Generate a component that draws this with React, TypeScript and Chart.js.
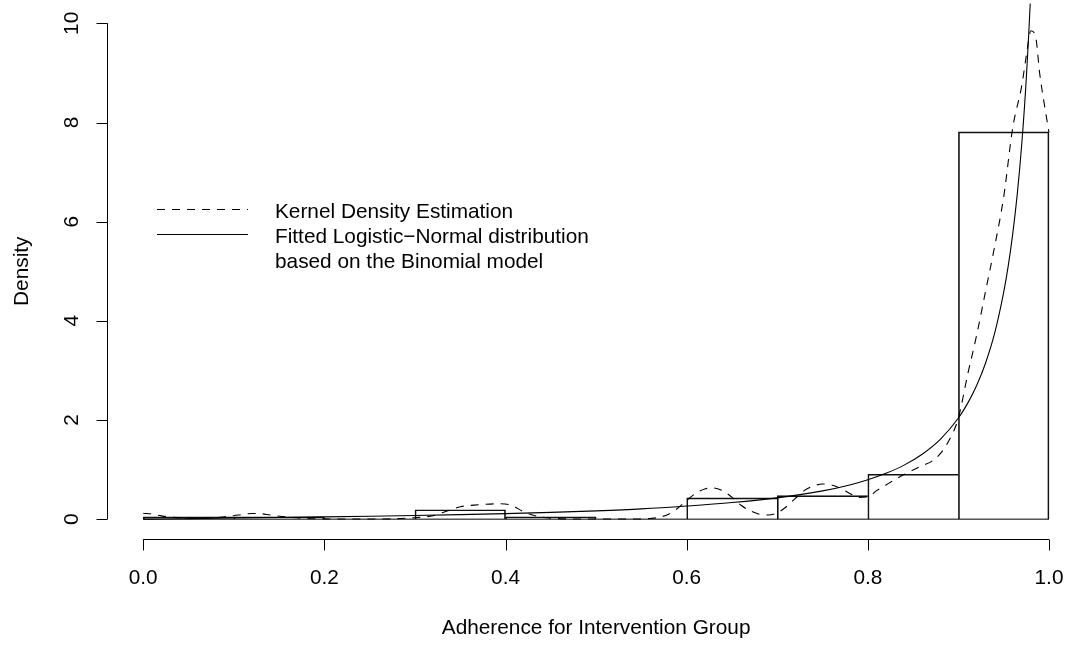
import React, { useEffect, useRef } from "react";
import { Chart, registerables } from "chart.js";

Chart.register(...registerables);

// ---------- data ----------
const binEdges = [0, 0.1, 0.2, 0.3, 0.4, 0.5, 0.6, 0.7, 0.8, 0.9, 1.0];
const binDensity = [0.048, 0.048, 0, 0.19, 0.048, 0, 0.43, 0.476, 0.905, 7.81];

const kdeX = [
  0.0, 0.01, 0.02, 0.03, 0.05, 0.07, 0.09, 0.1, 0.11, 0.12, 0.13, 0.14, 0.16, 0.18, 0.2,
  0.24, 0.28, 0.3, 0.32, 0.33, 0.34, 0.35, 0.37, 0.39, 0.405, 0.42, 0.435, 0.45, 0.47,
  0.52, 0.55, 0.56, 0.57, 0.58, 0.59,
  0.6, 0.61, 0.62, 0.63, 0.64, 0.65, 0.66, 0.67, 0.68, 0.69,
  0.7, 0.71, 0.72, 0.73, 0.74, 0.75, 0.76, 0.77, 0.78, 0.79,
  0.8, 0.81, 0.82, 0.83, 0.84, 0.85, 0.86, 0.87, 0.88, 0.89,
  0.9, 0.91, 0.92, 0.93, 0.94, 0.95, 0.96, 0.97,
  0.975, 0.98, 0.985, 0.99, 0.995, 1.0,
];
const kdeY = [
  0.12, 0.1, 0.066, 0.04, 0.02, 0.02, 0.05, 0.07, 0.095, 0.115, 0.11, 0.085, 0.04, 0.015, 0.005,
  0.002, 0.01, 0.03, 0.07, 0.13, 0.19, 0.25, 0.29, 0.31, 0.29, 0.15, 0.06, 0.02, 0.005,
  0.002, 0.005, 0.015, 0.04, 0.1, 0.22,
  0.38, 0.52, 0.61, 0.63, 0.57, 0.44, 0.28, 0.17, 0.1, 0.085,
  0.13, 0.25, 0.42, 0.58, 0.67, 0.71, 0.69, 0.62, 0.52, 0.44,
  0.45, 0.58, 0.69, 0.8, 0.9, 0.99, 1.08, 1.16, 1.32, 1.6,
  2.04, 2.9, 3.7, 4.6, 5.5, 6.5, 7.9, 8.75,
  9.35, 9.85, 9.75, 8.95, 8.35, 7.8,
];

const fitX = [
  0, 0.02, 0.05, 0.1, 0.15, 0.2, 0.25, 0.3, 0.35, 0.4, 0.45, 0.5, 0.55, 0.6, 0.65, 0.7, 0.75,
  0.78, 0.8, 0.82, 0.84, 0.86, 0.88, 0.9, 0.91, 0.92, 0.93, 0.94, 0.95, 0.955, 0.96, 0.965,
  0.97, 0.975, 0.98, 0.985,
];
const fitY = [
  0, 0.004, 0.011, 0.023, 0.035, 0.047, 0.06, 0.075, 0.092, 0.112, 0.136, 0.167, 0.207, 0.265,
  0.335, 0.43, 0.57, 0.69, 0.795, 0.925, 1.09, 1.31, 1.61, 2.04, 2.33, 2.69, 3.15, 3.75, 4.58,
  5.11, 5.76, 6.56, 7.58, 8.91, 10.71, 13.28,
];

const xTicks = [0, 0.2, 0.4, 0.6, 0.8, 1.0];
const xTickLabels = ["0.0", "0.2", "0.4", "0.6", "0.8", "1.0"];
const yTicks = [0, 2, 4, 6, 8, 10];
const yTickLabels = ["0", "2", "4", "6", "8", "10"];

const xTitle = "Adherence for Intervention Group";
const yTitle = "Density";
const legendLabels = [
  "Kernel Density Estimation",
  "Fitted Logistic\u2212Normal distribution",
  "based on the Binomial model",
];

const FONT = '20.8px "Liberation Sans", Arial, Helvetica, sans-serif';

// R-style axes, labels and legend
const rAxesPlugin = {
  id: "rAxes",
  afterDraw(chart: any) {
    const { ctx, chartArea } = chart;
    const xs = chart.scales.x;
    const ys = chart.scales.y;
    ctx.save();
    ctx.strokeStyle = "#000";
    ctx.fillStyle = "#000";
    ctx.lineWidth = 1;
    ctx.setLineDash([]);

    // x axis
    const yb = Math.round(chartArea.bottom) + 0.5;
    ctx.beginPath();
    ctx.moveTo(xs.getPixelForValue(xTicks[0]), yb);
    ctx.lineTo(xs.getPixelForValue(xTicks[xTicks.length - 1]), yb);
    xTicks.forEach((v) => {
      const px = Math.round(xs.getPixelForValue(v)) + 0.5;
      ctx.moveTo(px, yb);
      ctx.lineTo(px, yb + 11);
    });
    ctx.stroke();
    ctx.font = FONT;
    ctx.textAlign = "center";
    ctx.textBaseline = "alphabetic";
    xTicks.forEach((v, i) => {
      ctx.fillText(xTickLabels[i], xs.getPixelForValue(v), chartArea.bottom + 45);
    });
    const xMid = (xTicks[0] + xTicks[xTicks.length - 1]) / 2;
    ctx.fillText(xTitle, xs.getPixelForValue(xMid), chartArea.bottom + 95);

    // y axis
    const xl = Math.round(chartArea.left) + 0.5;
    ctx.beginPath();
    ctx.moveTo(xl, ys.getPixelForValue(yTicks[0]));
    ctx.lineTo(xl, ys.getPixelForValue(yTicks[yTicks.length - 1]));
    yTicks.forEach((v) => {
      const py = Math.round(ys.getPixelForValue(v)) + 0.5;
      ctx.moveTo(xl, py);
      ctx.lineTo(xl - 11, py);
    });
    ctx.stroke();
    yTicks.forEach((v, i) => {
      ctx.save();
      ctx.translate(chartArea.left - 29, ys.getPixelForValue(v));
      ctx.rotate(-Math.PI / 2);
      ctx.fillText(yTickLabels[i], 0, 0);
      ctx.restore();
    });
    const yMid = (yTicks[0] + yTicks[yTicks.length - 1]) / 2;
    ctx.save();
    ctx.translate(chartArea.left - 79, ys.getPixelForValue(yMid));
    ctx.rotate(-Math.PI / 2);
    ctx.fillText(yTitle, 0, 0);
    ctx.restore();

    // legend
    ctx.beginPath();
    ctx.setLineDash([8, 7]);
    ctx.moveTo(157, 209.5);
    ctx.lineTo(248, 209.5);
    ctx.stroke();
    ctx.setLineDash([]);
    ctx.beginPath();
    ctx.moveTo(157, 234.5);
    ctx.lineTo(248, 234.5);
    ctx.stroke();
    ctx.textAlign = "left";
    legendLabels.forEach((t, i) => {
      ctx.fillText(t, 275, 218 + i * 25);
    });
    ctx.restore();
  },
};

export default function App() {
  const ref = useRef<HTMLCanvasElement | null>(null);

  useEffect(() => {
    if (!ref.current) return;
    const centers = binDensity.map((_, i) => (binEdges[i] + binEdges[i + 1]) / 2);
    const lastBar = binDensity.length - 1;
    const chart = new Chart(ref.current, {
      type: "bar",
      data: {
        datasets: [
          {
            type: "line",
            label: "Fitted",
            data: fitX.map((x, i) => ({ x, y: fitY[i] })),
            borderColor: "#000",
            borderWidth: 1.1,
            pointRadius: 0,
            fill: false,
            cubicInterpolationMode: "monotone",
          } as any,
          {
            type: "line",
            label: "KDE",
            data: kdeX.map((x, i) => ({ x, y: kdeY[i] })),
            borderColor: "#000",
            borderWidth: 1.1,
            borderDash: [8, 7],
            pointRadius: 0,
            fill: false,
            cubicInterpolationMode: "monotone",
          } as any,
          {
            type: "line",
            label: "baseline",
            data: [
              { x: binEdges[0], y: 0 },
              { x: binEdges[binEdges.length - 1], y: 0 },
            ],
            borderColor: "#000",
            borderWidth: 1,
            pointRadius: 0,
            fill: false,
          } as any,
          {
            type: "bar",
            label: "Histogram",
            data: centers.map((c, i) => ({ x: c, y: binDensity[i] })),
            backgroundColor: "rgba(0,0,0,0)",
            borderColor: "#111",
            borderWidth: (ctx: any) => {
              const i = ctx.dataIndex;
              const showRight = i === lastBar || binDensity[i + 1] < binDensity[i];
              return { left: 1, top: 1, bottom: 0, right: showRight ? 1 : 0 };
            },
            borderSkipped: false,
            barPercentage: 1,
            categoryPercentage: 1,
            grouped: false,
          } as any,
        ],
      },
      options: {
        responsive: false,
        animation: false,
        devicePixelRatio: 1,
        layout: { padding: { left: 107, right: 0, top: 3.5, bottom: 114 } },
        plugins: { legend: { display: false }, tooltip: { enabled: false } },
        scales: {
          x: {
            type: "linear",
            display: false,
            offset: false,
            min: -0.04,
            max: 1.0254,
            afterBuildTicks: (scale: any) => {
              scale.ticks = xTicks.map((v) => ({ value: v }));
            },
          },
          y: {
            type: "linear",
            display: false,
            min: -0.4,
            max: 10.4,
          },
        },
      } as any,
      plugins: [rAxesPlugin],
    });
    return () => chart.destroy();
  }, []);

  return (
    <div style={{ position: "fixed", left: 0, top: 0, width: 1072, height: 653, background: "#fff" }}>
      <canvas ref={ref} width={1072} height={653} style={{ display: "block", width: 1072, height: 653 }} />
    </div>
  );
}
